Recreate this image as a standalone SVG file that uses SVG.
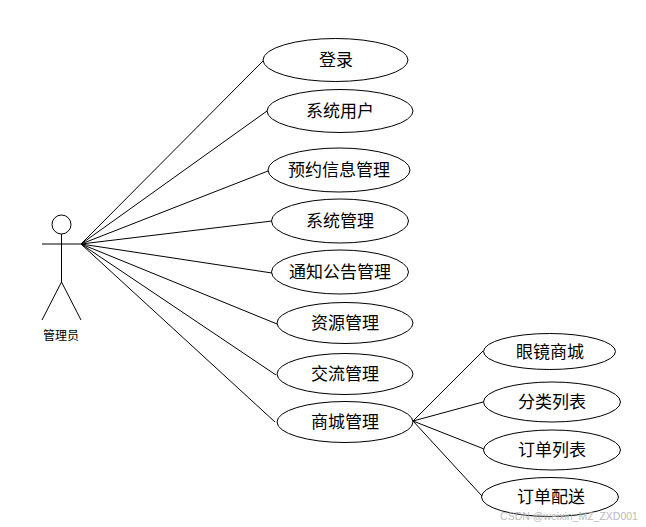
<svg xmlns="http://www.w3.org/2000/svg" width="646" height="527" viewBox="0 0 646 527">
<style>
.n{fill:#fff;stroke:#000;stroke-width:1}
.l{fill:none;stroke:#000;stroke-width:1}
text{font-family:"Noto Sans CJK SC","Liberation Sans",sans-serif;font-size:17px;fill:#000;text-anchor:middle}
.s{font-size:12px}
.w{font-family:"Liberation Sans",sans-serif;font-size:10.500px;fill:#b0b0b0;opacity:.85}
</style>
<rect width="646" height="527" fill="#fff"/>
<g id="connectors" class="l">
<path d="M81 244L263 61M81 244L267 111M81 244L268 171M81 244L272 221M81 244L272 273M81 244L277 324M81 244L276 375M81 244L275 422"/>
<path d="M413 421L483 351M413 421L483 402M413 421L484 449M413 421L482 496"/>
</g>
<g id="actor" class="l">
<circle cx="61.500" cy="224.500" r="9.500"/>
<path d="M42 244H81M61.500 234V282M61.500 282L42 320M61.500 282L81 320"/>
<text class="s" x="61" y="340" stroke="none" style="fill:#000">管理员</text>
</g>
<g id="n1"><ellipse class="n" cx="335.500" cy="60" rx="72.500" ry="21.500"/><text x="336" y="66">登录</text></g>
<g id="n2"><ellipse class="n" cx="340" cy="111" rx="73" ry="21.500"/><text x="340" y="117">系统用户</text></g>
<g id="n3"><ellipse class="n" cx="339" cy="170" rx="71" ry="22"/><text x="339" y="176">预约信息管理</text></g>
<g id="n4"><ellipse class="n" cx="340" cy="221" rx="68.500" ry="22"/><text x="340" y="227">系统管理</text></g>
<g id="n5"><ellipse class="n" cx="340" cy="272" rx="68.500" ry="22"/><text x="340" y="278">通知公告管理</text></g>
<g id="n6"><ellipse class="n" cx="345" cy="323" rx="68" ry="20.500"/><text x="345" y="329">资源管理</text></g>
<g id="n7"><ellipse class="n" cx="345" cy="374" rx="68" ry="20.500"/><text x="345" y="380">交流管理</text></g>
<g id="n8"><ellipse class="n" cx="345" cy="422" rx="68" ry="20.500"/><text x="345" y="428">商城管理</text></g>
<g id="n9"><ellipse class="n" cx="549.500" cy="351.500" rx="66" ry="18"/><text x="550" y="358">眼镜商城</text></g>
<g id="n10"><ellipse class="n" cx="552" cy="402" rx="68.500" ry="20"/><text x="552" y="408">分类列表</text></g>
<g id="n11"><ellipse class="n" cx="552" cy="450" rx="68.500" ry="20"/><text x="552" y="456">订单列表</text></g>
<g id="n12"><ellipse class="n" cx="550" cy="497" rx="68.500" ry="19.500"/><text x="551" y="503">订单配送</text></g>
<text class="w" x="569" y="520">CSDN @weixin_MZ_ZXD001</text>
</svg>
